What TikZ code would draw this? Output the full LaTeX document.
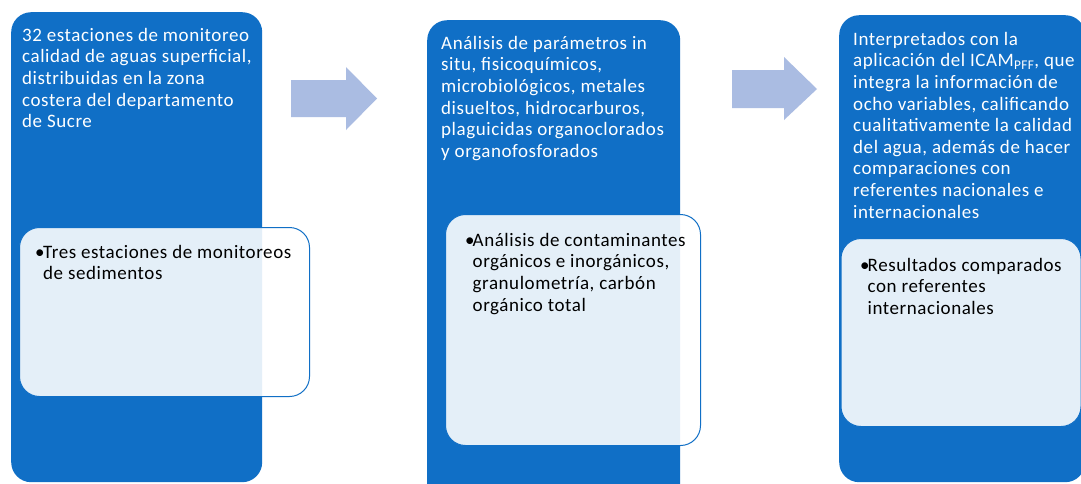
\documentclass[tikz,border=0pt]{standalone}
\usepackage{fontspec}
\setmainfont{Carlito}[LetterSpace=3]
\definecolor{mainblue}{RGB}{16,111,198}
\definecolor{arrowblue}{RGB}{170,188,226}
\begin{document}
\begin{tikzpicture}[x=1pt,y=-1pt,
  outerbox/.style={draw=none, fill=mainblue, rounded corners=20pt, inner sep=0pt},
  innerbox/.style={draw=mainblue, line width=1pt, fill=white, fill opacity=0.89, rounded corners=20pt, inner sep=0pt},
  maintext/.style={anchor=north west, inner sep=0pt, text=white, align=left,
    font={\fontsize{19}{21.6}\selectfont}},
  bullettext/.style={anchor=north west, inner sep=0pt, text=black, align=left,
    font={\fontsize{19}{21.6}\selectfont}},
  blockarrow/.style={fill=arrowblue, draw=none}]
\useasboundingbox (0,0) rectangle (1081,483);
\clip (0,0) rectangle (1081,483);
\fill[white] (0,0) rectangle (1081,483);
% outer boxes
\node[outerbox, minimum width=251pt, minimum height=470pt, anchor=north west] (b1) at (11,12) {};
\node[outerbox, minimum width=253pt, minimum height=490pt, anchor=north west] (b2) at (427,20) {};
\node[outerbox, minimum width=246pt, minimum height=467pt, anchor=north west] (b3) at (839,15) {};
% main texts
\node[maintext] (t1) at (22,24) {\rule{0pt}{17pt}32 estaciones de monitoreo\\calidad de aguas superficial,\\distribuidas en la zona\\costera del departamento\\de Sucre};
\node[maintext] (t2) at (441,32) {\rule{0pt}{17pt}Análisis de parámetros in\\situ, fisicoquímicos,\\microbiológicos, metales\\disueltos, hidrocarburos,\\plaguicidas organoclorados\\y organofosforados};
\node[maintext] (t3) at (853,28) {\rule{0pt}{17pt}Interpretados con la\\aplicación del ICAM\textsubscript{PFF}, que\\integra la información de\\ocho variables, calificando\\cualitativamente la calidad\\del agua, además de hacer\\comparaciones con\\referentes nacionales e\\internacionales};
% inner boxes
\node[innerbox, minimum width=290pt, minimum height=169pt, anchor=north west] (i1) at (19,227) {};
\node[innerbox, minimum width=255pt, minimum height=231pt, anchor=north west] (i2) at (445,214) {};
\node[innerbox, minimum width=240pt, minimum height=188pt, anchor=north west] (i3) at (840.5,238) {};
% inner texts
\node[bullettext] (u1) at (35,241) {\rule{0pt}{17pt}\makebox[8pt][l]{•}Tres estaciones de monitoreos\\\hspace*{8pt}de sedimentos};
\node[bullettext] (u2) at (465,229) {\rule{0pt}{17pt}\makebox[7.5pt][l]{•}Análisis de contaminantes\\\hspace*{7.5pt}orgánicos e inorgánicos,\\\hspace*{7.5pt}granulometría, carbón\\\hspace*{7.5pt}orgánico total};
\node[bullettext] (u3) at (860,254) {\rule{0pt}{17pt}\makebox[7.5pt][l]{•}Resultados comparados\\\hspace*{7.5pt}con referentes\\\hspace*{7.5pt}internacionales};
% block arrows
\fill[blockarrow] (291,80) -- (346,80) -- (346,67) -- (377,98.5) -- (346,130) -- (346,117) -- (291,117) -- cycle;
\fill[blockarrow] (732,70) -- (784,70) -- (784,57) -- (817,89) -- (784,120) -- (784,108) -- (732,108) -- cycle;
\end{tikzpicture}
\end{document}
